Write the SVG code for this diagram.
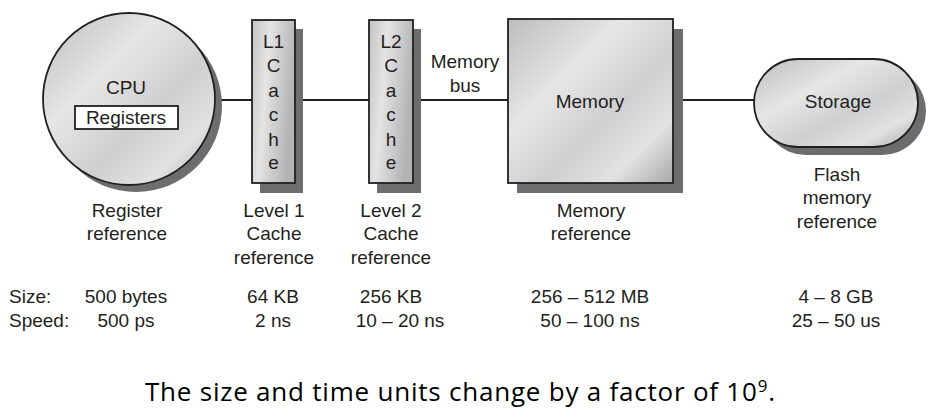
<svg xmlns="http://www.w3.org/2000/svg" width="929" height="411" viewBox="0 0 929 411">
<defs>
<linearGradient id="metal" x1="0" y1="0" x2="1" y2="1">
<stop offset="0" stop-color="#bdbdbf"/>
<stop offset="0.35" stop-color="#e6e6e7"/>
<stop offset="0.6" stop-color="#cfcfd1"/>
<stop offset="0.8" stop-color="#e2e2e3"/>
<stop offset="1" stop-color="#a9a9ab"/>
</linearGradient>
<linearGradient id="metalv" x1="0" y1="0" x2="1" y2="0.3">
<stop offset="0" stop-color="#c3c3c5"/>
<stop offset="0.4" stop-color="#e4e4e5"/>
<stop offset="1" stop-color="#b3b3b5"/>
</linearGradient>
</defs>
<style>
.sh{fill:#6d6d6f}
.box{fill:url(#metal);stroke:#231f20;stroke-width:1.8}
.boxv{fill:url(#metalv);stroke:#231f20;stroke-width:1.8}
.t{font-family:"Liberation Sans",Arial,sans-serif;font-size:19px;fill:#231f20;text-anchor:middle}
.ts{font-family:"Liberation Sans",Arial,sans-serif;font-size:19px;fill:#231f20}
.ln{stroke:#231f20;stroke-width:2.2;fill:none}
.cap{font-family:"Open Sans","Noto Sans",sans-serif;font-size:26px;fill:#000}
</style>
<rect width="929" height="411" fill="#fff"/>
<g id="connectors">
<line class="ln" x1="214" y1="100" x2="252" y2="100"/>
<line class="ln" x1="295" y1="100" x2="369" y2="100"/>
<line class="ln" x1="413" y1="100" x2="508" y2="100"/>
<line class="ln" x1="673" y1="100" x2="755" y2="100"/>
</g>
<g id="cpu">
<circle class="sh" cx="136" cy="106" r="86"/>
<circle class="box" cx="129" cy="99" r="86"/>
<text class="t" x="126" y="94">CPU</text>
<rect x="75" y="106" width="103" height="23" fill="#fff" stroke="#231f20" stroke-width="1.8"/>
<text class="t" x="126" y="124">Registers</text>
</g>
<g id="l1">
<rect class="sh" x="260" y="29" width="43" height="164"/>
<rect class="boxv" x="252" y="20" width="43" height="163"/>
<text class="t" x="273.5" y="48">L1</text>
<text class="t" x="273.5" y="72">C</text>
<text class="t" x="273.5" y="97">a</text>
<text class="t" x="273.5" y="121">c</text>
<text class="t" x="273.5" y="146">h</text>
<text class="t" x="273.5" y="169">e</text>
</g>
<g id="l2">
<rect class="sh" x="377" y="29" width="44" height="164"/>
<rect class="boxv" x="369" y="20" width="44" height="163"/>
<text class="t" x="391" y="48">L2</text>
<text class="t" x="391" y="72">C</text>
<text class="t" x="391" y="97">a</text>
<text class="t" x="391" y="121">c</text>
<text class="t" x="391" y="146">h</text>
<text class="t" x="391" y="169">e</text>
</g>
<g id="membus">
<text class="t" x="465" y="68">Memory</text>
<text class="t" x="465" y="92">bus</text>
</g>
<g id="memory">
<rect class="sh" x="517" y="29" width="166" height="164"/>
<rect class="box" x="508" y="19" width="165" height="164"/>
<text class="t" x="590" y="108">Memory</text>
</g>
<g id="storage">
<rect class="sh" x="762" y="67" width="164" height="88" rx="44"/>
<rect class="box" x="754" y="59" width="164" height="88" rx="44"/>
<text class="t" x="838" y="108">Storage</text>
</g>
<g id="labels">
<text class="t" x="127" y="217">Register</text>
<text class="t" x="127" y="240">reference</text>
<text class="t" x="274" y="217">Level 1</text>
<text class="t" x="274" y="240">Cache</text>
<text class="t" x="274" y="264">reference</text>
<text class="t" x="391" y="217">Level 2</text>
<text class="t" x="391" y="240">Cache</text>
<text class="t" x="391" y="264">reference</text>
<text class="t" x="591" y="217">Memory</text>
<text class="t" x="591" y="240">reference</text>
<text class="t" x="837" y="181">Flash</text>
<text class="t" x="837" y="204">memory</text>
<text class="t" x="837" y="228">reference</text>
</g>
<g id="table">
<text class="ts" x="9" y="303">Size:</text>
<text class="ts" x="9" y="327">Speed:</text>
<text class="t" x="126" y="303">500 bytes</text>
<text class="t" x="126" y="327">500 ps</text>
<text class="t" x="273" y="303">64 KB</text>
<text class="t" x="273" y="327">2 ns</text>
<text class="t" x="391" y="303">256 KB</text>
<text class="t" x="400" y="327">10 – 20 ns</text>
<text class="t" x="590" y="303">256 – 512 MB</text>
<text class="t" x="590" y="327">50 – 100 ns</text>
<text class="t" x="836" y="303">4 – 8 GB</text>
<text class="t" x="836" y="327">25 – 50 us</text>
</g>
<g id="caption">
<text class="cap" x="145" y="401" textLength="630">The size and time units change by a factor of 10<tspan font-size="17" dy="-9">9</tspan><tspan dy="9">.</tspan></text>
</g>
</svg>
